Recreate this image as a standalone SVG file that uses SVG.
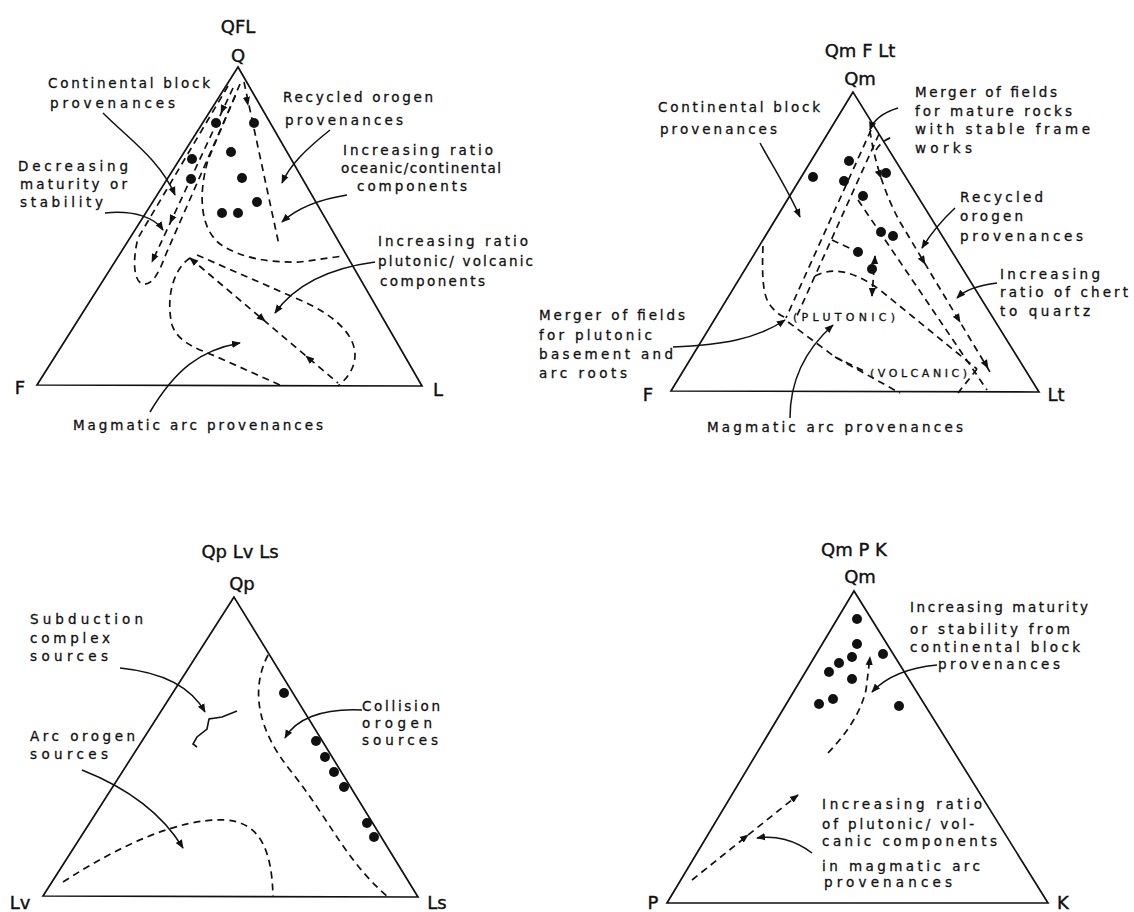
<svg xmlns="http://www.w3.org/2000/svg" width="1134" height="912" viewBox="0 0 1134 912">
<style>
.t{font-family:"DejaVu Sans","Liberation Sans",sans-serif;font-size:13.5px;fill:#111;stroke:#111;stroke-width:0.3}
.s{font-size:11px}
.h{font-size:18px;stroke-width:0.4}
.tri{fill:none;stroke:#111;stroke-width:1.7}
.dash{fill:none;stroke:#111;stroke-width:1.7;stroke-dasharray:7 5}
.arr{fill:none;stroke:#111;stroke-width:1.5;marker-end:url(#ah)}
.ah{fill:none;stroke:none;marker-end:url(#ah)}
.dot{fill:#111}
</style>
<defs>
<marker id="ah" viewBox="0 0 10 10" refX="9" refY="5" markerWidth="9" markerHeight="9" markerUnits="userSpaceOnUse" orient="auto"><path d="M0,1 L10,5 L0,9 z" fill="#111"/></marker>
</defs>
<rect width="1134" height="912" fill="#fff"/>

<!-- QFL -->
<g id="qfl">
<polygon class="tri" points="238,67 37,385 422,386"/>
<g id="qfl-fields">
<path class="dash" d="M228 86 L138 238 C132 262 134 282 143 284 C153 286 160 270 166 254 L237 92"/>
<path class="dash" d="M233 88 L152 262"/>
<path class="dash" d="M240 84 L208 160 C198 195 200 228 220 244 C240 258 270 263 300 262 L343 256"/>
<path class="dash" d="M244 82 L279 245"/>
<path class="dash" d="M190 258 C172 270 166 300 172 325 C178 342 195 348 215 356 L280 385"/>
<path class="dash" d="M197 255 L300 300 C335 315 355 335 355 355 C355 370 345 380 338 386"/>
<path class="dash" d="M190 258 L338 383"/>
<path class="ah" d="M225 104 L221 113"/>
<path class="ah" d="M174 214 L170 223"/>
<path class="ah" d="M156 253 L152 262"/>
<path class="ah" d="M246 95 L248 105"/>
<path class="ah" d="M200 266.5 L190 258"/>
<path class="ah" d="M255 312.6 L265 321"/>
<path class="ah" d="M316 364.5 L306 356"/>
</g>
<g id="qfl-dots">
<circle class="dot" cx="216" cy="123" r="5"/><circle class="dot" cx="254" cy="123" r="5"/>
<circle class="dot" cx="231" cy="152" r="5"/><circle class="dot" cx="192" cy="159" r="5"/>
<circle class="dot" cx="242" cy="178" r="5"/><circle class="dot" cx="191" cy="179" r="5"/>
<circle class="dot" cx="257" cy="202" r="5"/><circle class="dot" cx="222" cy="213" r="5"/>
<circle class="dot" cx="238" cy="213" r="5"/>
</g>
<g id="qfl-connectors">
<path class="arr" d="M103 113 C130 140 160 160 175 195"/>
<path class="arr" d="M330 130 C305 150 290 165 282 183"/>
<path class="arr" d="M347 195 C315 200 295 210 282 222"/>
<path class="arr" d="M105 213 C135 210 155 218 163 230"/>
<path class="arr" d="M375 262 C330 268 295 285 275 313"/>
<path class="arr" d="M150 412 C175 370 200 350 240 343"/>
</g>
<g id="qfl-labels">
<text class="t h" x="238" y="33" text-anchor="middle">QFL</text>
<text class="t h" x="238" y="62" text-anchor="middle">Q</text>
<text class="t h" x="20" y="394" text-anchor="middle">F</text>
<text class="t h" x="438" y="396" text-anchor="middle">L</text>
<text class="t" x="48" y="88" textLength="162" lengthAdjust="spacing">Continental block</text>
<text class="t" x="50" y="108" textLength="125" lengthAdjust="spacing">provenances</text>
<text class="t" x="283" y="102" textLength="150" lengthAdjust="spacing">Recycled orogen</text>
<text class="t" x="285" y="125" textLength="118" lengthAdjust="spacing">provenances</text>
<text class="t" x="343" y="155" textLength="150" lengthAdjust="spacing">Increasing ratio</text>
<text class="t" x="341" y="173" textLength="160" lengthAdjust="spacing">oceanic/continental</text>
<text class="t" x="357" y="191" textLength="110" lengthAdjust="spacing">components</text>
<text class="t" x="18" y="171" textLength="110" lengthAdjust="spacing">Decreasing</text>
<text class="t" x="20" y="189" textLength="107" lengthAdjust="spacing">maturity or</text>
<text class="t" x="20" y="207" textLength="83" lengthAdjust="spacing">stability</text>
<text class="t" x="378" y="246" textLength="150" lengthAdjust="spacing">Increasing ratio</text>
<text class="t" x="378" y="266" textLength="155" lengthAdjust="spacing">plutonic/ volcanic</text>
<text class="t" x="380" y="286" textLength="105" lengthAdjust="spacing">components</text>
<text class="t" x="73" y="430" textLength="250" lengthAdjust="spacing">Magmatic arc provenances</text>
</g>
</g>

<!-- QmFLt -->
<g id="qmflt">
<polygon class="tri" points="853,92 671,391 1039,392"/>
<g id="qmflt-fields">
<path class="dash" d="M871 130 L786 318"/>
<path class="dash" d="M879 134 L796 318"/>
<path class="dash" d="M876 150 Q882 140 893 137"/>
<path class="dash" d="M763 246 C762 270 762 295 770 305 C776 313 782 317 788 318"/>
<path class="dash" d="M788 322 L835 357 L900 393"/>
<path class="dash" d="M835 357 L866 372"/>
<path class="dash" d="M815 276 C835 266 855 272 880 290 L977 369"/>
<path class="dash" d="M977 369 L958 393"/>
<path class="dash" d="M858 200 L987 390"/>
<path class="dash" d="M870 131 C874 160 885 195 900 222 L990 372"/>
<path class="dash" d="M875 256 L872 296"/>
<path class="dash" d="M832 240 L856 251"/>
<path class="ah" d="M877.5 168.6 L881 178"/>
<path class="ah" d="M920 255.4 L925 264"/>
<path class="ah" d="M955 313.4 L960 322"/>
<path class="ah" d="M983 359.4 L988 368"/>
<path class="ah" d="M874.5 266 L875 256"/>
<path class="ah" d="M872.5 286 L872 296"/>
</g>
<g id="qmflt-dots">
<circle class="dot" cx="849" cy="161" r="5"/><circle class="dot" cx="813" cy="177" r="5"/>
<circle class="dot" cx="844" cy="181" r="5"/><circle class="dot" cx="886" cy="173" r="5"/>
<circle class="dot" cx="863" cy="196" r="5"/><circle class="dot" cx="881" cy="232" r="5"/>
<circle class="dot" cx="893" cy="236" r="5"/><circle class="dot" cx="858" cy="252" r="5"/>
<circle class="dot" cx="872" cy="269" r="5"/>
</g>
<g id="qmflt-connectors">
<path class="arr" d="M760 143 C772 165 788 190 800 217"/>
<path class="arr" d="M898 108 C885 112 874 118 870 130"/>
<path class="arr" d="M955 208 C940 222 930 235 922 248"/>
<path class="arr" d="M997 283 C980 285 965 290 957 298"/>
<path class="arr" d="M673 347 C720 345 755 340 785 320"/>
<path class="arr" d="M790 418 C790 380 805 350 833 325"/>
</g>
<g id="qmflt-labels">
<text class="t h" x="860" y="57" text-anchor="middle">Qm F Lt</text>
<text class="t h" x="860" y="85" text-anchor="middle">Qm</text>
<text class="t h" x="648" y="401" text-anchor="middle">F</text>
<text class="t h" x="1056" y="401" text-anchor="middle">Lt</text>
<text class="t" x="658" y="112" textLength="162" lengthAdjust="spacing">Continental block</text>
<text class="t" x="660" y="134" textLength="117" lengthAdjust="spacing">provenances</text>
<text class="t" x="915" y="97" textLength="142" lengthAdjust="spacing">Merger of fields</text>
<text class="t" x="915" y="116" textLength="157" lengthAdjust="spacing">for mature rocks</text>
<text class="t" x="915" y="134" textLength="175" lengthAdjust="spacing">with stable frame</text>
<text class="t" x="915" y="153" textLength="57" lengthAdjust="spacing">works</text>
<text class="t" x="960" y="202" textLength="83" lengthAdjust="spacing">Recycled</text>
<text class="t" x="960" y="221" textLength="63" lengthAdjust="spacing">orogen</text>
<text class="t" x="960" y="241" textLength="123" lengthAdjust="spacing">provenances</text>
<text class="t" x="1000" y="279" textLength="100" lengthAdjust="spacing">Increasing</text>
<text class="t" x="1000" y="297" textLength="128" lengthAdjust="spacing">ratio of chert</text>
<text class="t" x="1000" y="316" textLength="90" lengthAdjust="spacing">to quartz</text>
<text class="t" x="539" y="320" textLength="146" lengthAdjust="spacing">Merger of fields</text>
<text class="t" x="539" y="340" textLength="113" lengthAdjust="spacing">for plutonic</text>
<text class="t" x="539" y="359" textLength="134" lengthAdjust="spacing">basement and</text>
<text class="t" x="539" y="378" textLength="88" lengthAdjust="spacing">arc roots</text>
<text class="t" x="707" y="432" textLength="256" lengthAdjust="spacing">Magmatic arc provenances</text>
<text class="t s" x="793" y="321" textLength="102" lengthAdjust="spacing">(PLUTONIC)</text>
<text class="t s" x="870" y="377" textLength="97" lengthAdjust="spacing">(VOLCANIC)</text>
</g>
</g>

<!-- QpLvLs -->
<g id="qplvls">
<polygon class="tri" points="234,597 43,896 418,897"/>
<g id="qplvls-fields">
<path class="dash" d="M268 655 C250 690 258 730 290 770 C330 820 345 860 388 897"/>
<path class="dash" d="M63 882 C120 845 180 818 225 820 C260 822 272 850 273 897"/>
<path fill="none" stroke="#111" stroke-width="1.6" d="M237 711 L222 717 L209 719 L207 729 L197 737 L193 744 L197 747"/>
</g>
<g id="qplvls-dots">
<circle class="dot" cx="284" cy="693" r="5"/><circle class="dot" cx="316" cy="741" r="5"/>
<circle class="dot" cx="325" cy="757" r="5"/><circle class="dot" cx="334" cy="772" r="5"/>
<circle class="dot" cx="344" cy="787" r="5"/><circle class="dot" cx="367" cy="823" r="5"/>
<circle class="dot" cx="374" cy="837" r="5"/>
</g>
<g id="qplvls-connectors">
<path class="arr" d="M120 668 C160 672 190 685 205 712"/>
<path class="arr" d="M362 710 C320 708 295 720 285 738"/>
<path class="arr" d="M82 770 C120 785 160 810 183 848"/>
</g>
<g id="qplvls-labels">
<text class="t h" x="240" y="558" text-anchor="middle">Qp Lv Ls</text>
<text class="t h" x="242" y="590" text-anchor="middle">Qp</text>
<text class="t h" x="20" y="909" text-anchor="middle">Lv</text>
<text class="t h" x="437" y="909" text-anchor="middle">Ls</text>
<text class="t" x="30" y="624" textLength="113" lengthAdjust="spacing">Subduction</text>
<text class="t" x="30" y="643" textLength="80" lengthAdjust="spacing">complex</text>
<text class="t" x="30" y="661" textLength="78" lengthAdjust="spacing">sources</text>
<text class="t" x="30" y="741" textLength="105" lengthAdjust="spacing">Arc orogen</text>
<text class="t" x="30" y="759" textLength="78" lengthAdjust="spacing">sources</text>
<text class="t" x="362" y="711" textLength="78" lengthAdjust="spacing">Collision</text>
<text class="t" x="362" y="728" textLength="70" lengthAdjust="spacing">orogen</text>
<text class="t" x="362" y="745" textLength="76" lengthAdjust="spacing">sources</text>
</g>
</g>

<!-- QmPK -->
<g id="qmpk">
<polygon class="tri" points="854,591 667,903 1048,903"/>
<g id="qmpk-fields">
<path class="dash" d="M828 753 C845 735 860 715 866 690 L870 657"/>
<path class="dash" d="M692 880 L798 795"/>
<path class="ah" d="M869 667 L870 657"/>
<path class="ah" d="M790 801 L798 795"/>
<path class="ah" d="M740 841 L748 835"/>
</g>
<g id="qmpk-dots">
<circle class="dot" cx="857" cy="619" r="5"/><circle class="dot" cx="857" cy="644" r="5"/>
<circle class="dot" cx="883" cy="654" r="5"/><circle class="dot" cx="852" cy="657" r="5"/>
<circle class="dot" cx="839" cy="663" r="5"/><circle class="dot" cx="829" cy="672" r="5"/>
<circle class="dot" cx="852" cy="679" r="5"/><circle class="dot" cx="833" cy="699" r="5"/>
<circle class="dot" cx="819" cy="704" r="5"/><circle class="dot" cx="899" cy="706" r="5"/>
</g>
<g id="qmpk-connectors">
<path class="arr" d="M937 665 C905 668 885 678 872 692"/>
<path class="arr" d="M812 853 C795 840 775 835 757 838"/>
</g>
<g id="qmpk-labels">
<text class="t h" x="854" y="556" text-anchor="middle">Qm P K</text>
<text class="t h" x="860" y="583" text-anchor="middle">Qm</text>
<text class="t h" x="653" y="909" text-anchor="middle">P</text>
<text class="t h" x="1063" y="909" text-anchor="middle">K</text>
<text class="t" x="910" y="612" textLength="178" lengthAdjust="spacing">Increasing maturity</text>
<text class="t" x="910" y="634" textLength="160" lengthAdjust="spacing">or stability  from</text>
<text class="t" x="910" y="652" textLength="170" lengthAdjust="spacing">continental block</text>
<text class="t" x="938" y="669" textLength="122" lengthAdjust="spacing">provenances</text>
<text class="t" x="822" y="809" textLength="160" lengthAdjust="spacing">Increasing ratio</text>
<text class="t" x="822" y="829" textLength="152" lengthAdjust="spacing">of plutonic/ vol-</text>
<text class="t" x="822" y="846" textLength="175" lengthAdjust="spacing">canic components</text>
<text class="t" x="822" y="871" textLength="158" lengthAdjust="spacing">in magmatic arc</text>
<text class="t" x="824" y="887" textLength="128" lengthAdjust="spacing">provenances</text>
</g>
</g>
</svg>
